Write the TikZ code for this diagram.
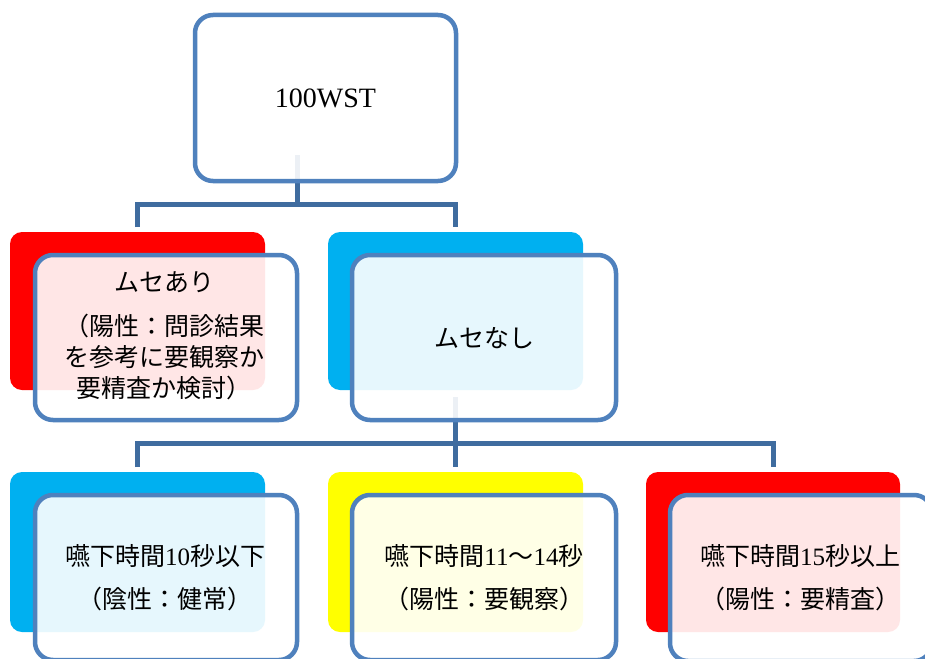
\documentclass[tikz,border=0pt]{standalone}
\usepackage{fontspec}
\setmainfont{Liberation Serif}
\newfontfamily\cjk{Noto Sans CJK JP}
\newcommand{\dg}[1]{{\rmfamily #1}}
\definecolor{frameblue}{HTML}{4F81BD}
\definecolor{connblue}{HTML}{3F6C9F}
\definecolor{bred}{HTML}{FF0000}
\definecolor{bblue}{HTML}{00B0F0}
\definecolor{byellow}{HTML}{FFFF00}
\tikzset{
  backbox/.style={fill=#1, draw=none, rounded corners=12pt, inner sep=0pt},
  frontbox/.style={draw=frameblue, line width=4.5pt, fill=white, fill opacity=0.9,
    text opacity=1, rounded corners=18pt, inner sep=0pt},
  conn/.style={draw=connblue, line width=5pt},
  txt/.style={align=center, font=\fontsize{25}{31}\selectfont\cjk, inner sep=0pt},
}
\begin{document}
\begin{tikzpicture}[x=1pt,y=-1pt]
\useasboundingbox (0,0) rectangle (925,658);
\fill[white] (0,0) rectangle (925,658);
% connectors
\coordinate (j1) at (297,155);
\coordinate (h1) at (297,204);
\coordinate (dL) at (137,227);
\coordinate (dR) at (455,227);
\draw[conn] (j1) -- (h1);
\draw[conn] (dL) |- (h1) -| (dR);
\coordinate (j2) at (455,397);
\coordinate (h2) at (455,443);
\coordinate (eL) at (137,467);
\coordinate (eM) at (455,467);
\coordinate (eR) at (773,467);
\draw[conn] (j2) -- (eM);
\draw[conn] (eL) |- (h2) -| (eR);
% back boxes
\node[backbox=bred, minimum width=255, minimum height=158] (bA) at (137.5,311) {};
\node[backbox=bblue, minimum width=255, minimum height=158] (bB) at (455.5,311) {};
\node[backbox=bblue, minimum width=255, minimum height=160] (bC) at (137.5,552) {};
\node[backbox=byellow, minimum width=255, minimum height=160] (bD) at (455.5,552) {};
\node[backbox=bred, minimum width=254, minimum height=160] (bE) at (773,552) {};
% front boxes
\node[frontbox, minimum width=261, minimum height=166] (top) at (325.5,98) {};
\node[frontbox, minimum width=262, minimum height=165] (fA) at (166,337.5) {};
\node[frontbox, minimum width=264, minimum height=165] (fB) at (484,337.5) {};
\node[frontbox, minimum width=262, minimum height=165] (fC) at (166,577.5) {};
\node[frontbox, minimum width=264, minimum height=165] (fD) at (484,577.5) {};
\node[frontbox, minimum width=262, minimum height=166] (fE) at (801,578) {};
% texts
\node[inner sep=0pt, font=\fontsize{28}{31}\selectfont] (tTop) at (325.5,98) {100WST};
\node[txt] (tA) at (164,336) {ムセあり\\[13pt]（陽性：問診結果\\を参考に要観察か\\要精査か検討）};
\node[txt] (tB) at (484,338) {ムセなし};
\node[txt] (tC) at (165,578) {嚥下時間\dg{10}秒以下\\[12pt]（陰性：健常）};
\node[txt] (tD) at (484,578) {嚥下時間\dg{11}～\dg{14}秒\\[12pt]（陽性：要観察）};
\node[txt] (tE) at (800,578) {嚥下時間\dg{15}秒以上\\[12pt]（陽性：要精査）};
\end{tikzpicture}
\end{document}
